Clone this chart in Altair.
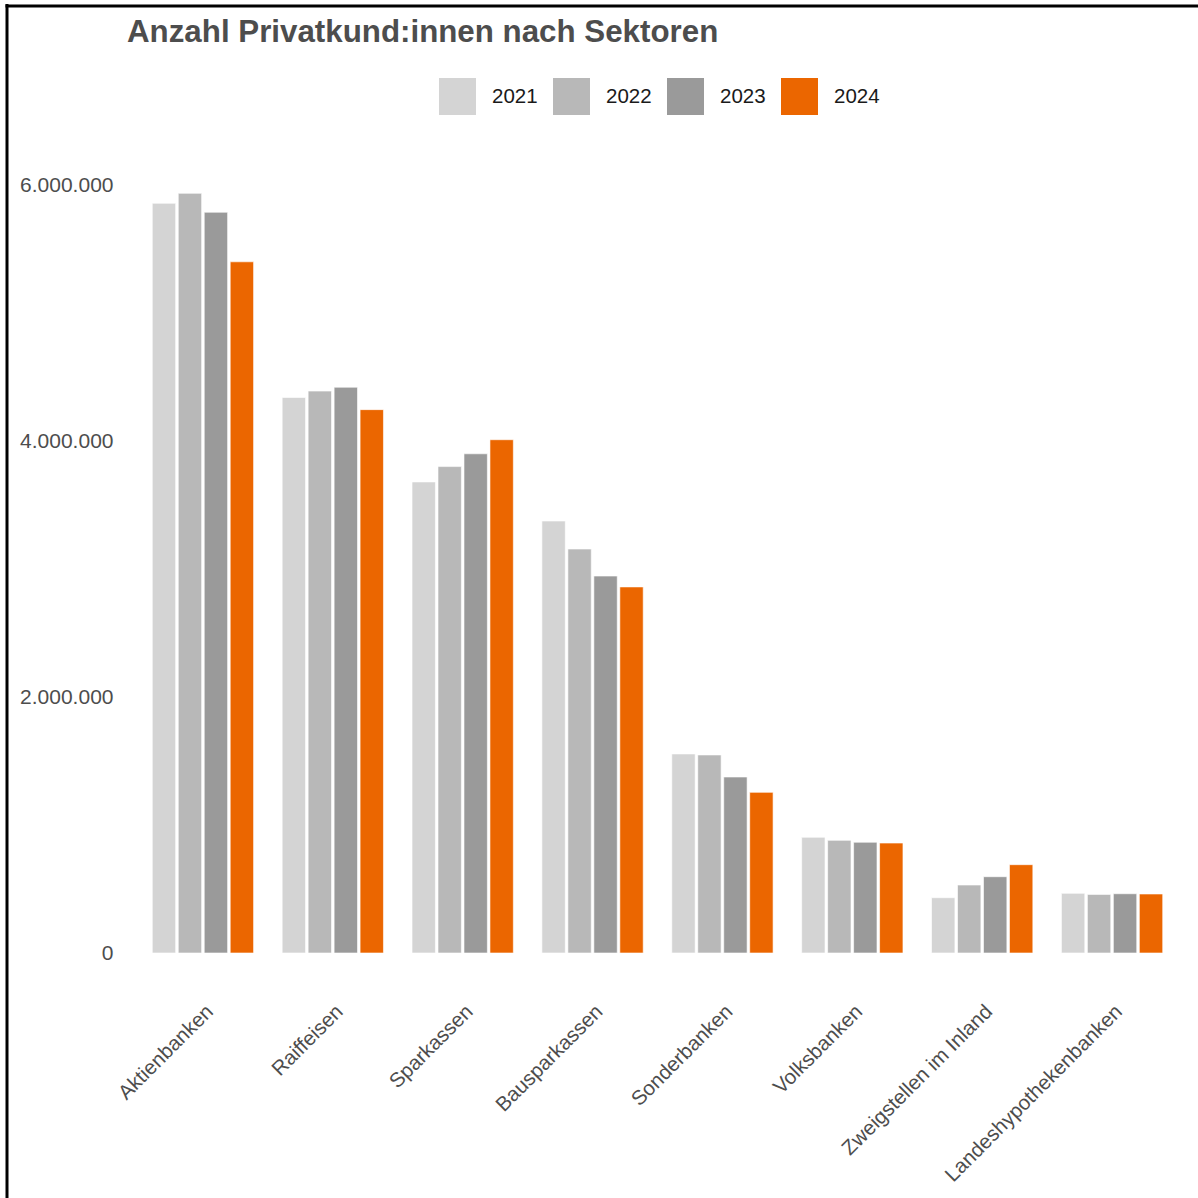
import altair as alt
import pandas as pd

sektoren = ["Aktienbanken", "Raiffeisen", "Sparkassen", "Bausparkassen",
            "Sonderbanken", "Volksbanken", "Zweigstellen im Inland",
            "Landeshypothekenbanken"]
jahre = ["2021", "2022", "2023", "2024"]
v2021 = [5857000, 4340000, 3680000, 3375000, 1555000, 904000, 432000, 466000]
v2022 = [5935000, 4390000, 3800000, 3156000, 1547000, 880000, 531000, 458000]
v2023 = [5787000, 4420000, 3900000, 2945000, 1375000, 865000, 596000, 463000]
v2024 = [5400000, 4245000, 4010000, 2860000, 1255000, 859000, 690000, 461000]
farben = ["#d4d4d4", "#b8b8b8", "#9a9a9a", "#eb6600"]
y_ticks = [0, 2000000, 4000000, 6000000]

rows = []
for j, vals in zip(jahre, [v2021, v2022, v2023, v2024]):
    for s, v in zip(sektoren, vals):
        rows.append({"Sektor": s, "Jahr": j, "Anzahl": v})
df = pd.DataFrame(rows)

FONT = "Liberation Sans"
W, H = 1039, 800
PL, PT = 138, 153

bars = alt.Chart(df).mark_bar(stroke="white", strokeWidth=0.6).encode(
    x=alt.X("Sektor:N", sort=sektoren, title=None,
            scale=alt.Scale(paddingInner=0.22, paddingOuter=0.11),
            axis=alt.Axis(labelAngle=315, labelAlign="right", labelBaseline="top",
                          labelPadding=48, ticks=False, tickSize=0, domain=False,
                          labelFontSize=20.5, labelColor="#4d4d4d", labelFont=FONT,
                          labelLimit=400)),
    xOffset=alt.XOffset("Jahr:N", sort=jahre,
                        scale=alt.Scale(paddingInner=0.1, paddingOuter=0)),
    y=alt.Y("Anzahl:Q", title=None,
            scale=alt.Scale(domain=[0, 6250000], nice=False),
            axis=alt.Axis(values=y_ticks, grid=False, ticks=False, domain=False,
                          labelFontSize=21, labelColor="#4d4d4d", labelFont=FONT,
                          labelPadding=25,
                          labelExpr="replace(replace(format(datum.value, ','), ',', '.'), ',', '.')")),
    color=alt.Color("Jahr:N", sort=jahre,
                    scale=alt.Scale(domain=jahre, range=farben),
                    legend=alt.Legend(title=None, orient="none", direction="horizontal",
                                      legendX=301, legendY=-75,
                                      symbolType="square", symbolSize=1369,
                                      symbolStrokeWidth=0, symbolOpacity=1,
                                      labelFontSize=20.5, labelColor="#1a1a1a",
                                      labelFont=FONT, labelOffset=16,
                                      columnPadding=15)),
)

frame_df = pd.DataFrame({"k": [0]})
left_line = alt.Chart(frame_df).mark_rule(color="black", strokeWidth=3).encode(
    x=alt.value(7 - PL), y=alt.value(4 - PT), y2=alt.value(1198 - PT + 5))
top_line = alt.Chart(frame_df).mark_rule(color="black", strokeWidth=3).encode(
    y=alt.value(6 - PT), x=alt.value(5.5 - PL), x2=alt.value(1198 - PL + 5))

chart = alt.layer(bars, left_line, top_line).properties(
    width=W, height=H,
    autosize=alt.AutoSizeParams(type="none"),
    padding={"left": PL, "top": PT, "right": 1198 - PL - W, "bottom": 1198 - PT - H},
    background="white",
    title=alt.TitleParams("Anzahl Privatkund:innen nach Sektoren", anchor="start",
                          frame="group", fontSize=31.3, fontWeight="bold",
                          color="#4d4d4d", font=FONT, dx=-11, offset=0, dy=46),
).configure_view(stroke=None)

chart.save("out.html", embed_options={"renderer": "svg", "actions": False})
